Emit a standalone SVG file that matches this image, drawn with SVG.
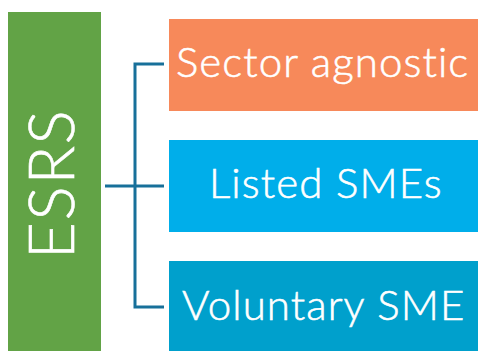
<svg xmlns="http://www.w3.org/2000/svg" width="478" height="351" viewBox="0 0 478 351">
<style>
.lbl{font-family:Lato,"Open Sans","Liberation Sans",sans-serif;font-weight:300;fill:#fff;stroke:#fff;stroke-width:0.6px}
.box{font-size:42px;letter-spacing:1.1px}
.conn{fill:none;stroke:#17709A;stroke-width:3}
</style>
<rect width="478" height="351" fill="#fff"/>
<g id="esrs">
<rect x="8" y="12" width="93" height="345" fill="#62A346"/>
<text class="lbl" transform="translate(74,184) rotate(-90)" text-anchor="middle" font-size="64" letter-spacing="1.5">ESRS</text>
</g>
<g id="connectors">
<path class="conn" d="M164,64 H135 V307 H164 M105,186 H164"/>
</g>
<g id="sector">
<rect x="169" y="19" width="315" height="92" fill="#F7895A"/>
<text class="lbl box" x="176" y="77">Sector agnostic</text>
</g>
<g id="listed">
<rect x="169" y="140" width="315" height="92" fill="#00AEEA"/>
<text class="lbl box" x="209" y="198">Listed SMEs</text>
</g>
<g id="voluntary">
<rect x="169" y="261" width="315" height="95" fill="#00A0CC"/>
<text class="lbl box" x="182" y="320">Voluntary SME</text>
</g>
</svg>
